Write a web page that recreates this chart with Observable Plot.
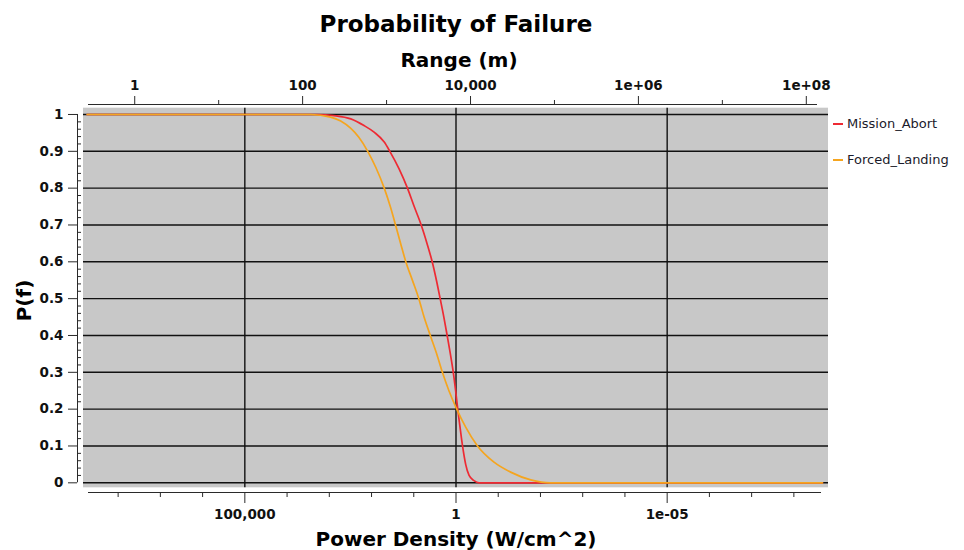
<!DOCTYPE html>
<html><head><meta charset="utf-8">
<script src="https://cdn.jsdelivr.net/npm/d3@7"></script>
<script src="https://cdn.jsdelivr.net/npm/@observablehq/plot@0.6"></script>
<style>
body{margin:0;background:#fff;}
#wrap{position:relative;width:964px;height:550px;font-family:"DejaVu Sans",sans-serif;}
#wrap svg{position:absolute;left:0;top:0;}
.legend{position:absolute;left:833px;font-size:13px;color:#1b1b2b;display:flex;align-items:center;white-space:nowrap;line-height:14px;}
.legend .sw{display:inline-block;width:10px;height:2px;margin-right:4px;}
</style></head><body><div id="wrap"></div>
<script>
// ---- data ----
const seriesNames = ["Mission_Abort", "Forced_Landing"];
const seriesColors = ["#ee2a33", "#f5a51f"];

const missionAbortPower = [5.4e8, 1900, 780, 310, 151, 87, 50, 36.9, 22.4, 14.1, 9.77, 6.67, 4.86, 3.66, 2.91, 2.37, 1.94, 1.62, 1.36, 1.16, 1.02, 0.91, 0.80, 0.70, 0.59, 0.49, 0.375, 0.285, 2.1e-9];
const missionAbortP     = [1, 1, 0.997, 0.988, 0.970, 0.952, 0.925, 0.90, 0.853, 0.80, 0.75, 0.70, 0.65, 0.60, 0.55, 0.50, 0.45, 0.40, 0.35, 0.30, 0.25, 0.20, 0.15, 0.10, 0.05, 0.02, 0.006, 0, 0];

const forcedLandingPower = [5.4e8, 2750, 930, 537, 309, 200, 126, 79, 50, 35.5, 27, 20.4, 15.5, 10.7, 7.5, 5.7, 4.0, 2.86, 2.10, 1.47, 0.96, 0.59, 0.31, 0.126, 0.051, 0.017, 0.0058, 2.1e-9];
const forcedLandingP     = [1, 1, 0.993, 0.982, 0.962, 0.938, 0.902, 0.856, 0.80, 0.748, 0.70, 0.649, 0.601, 0.549, 0.498, 0.45, 0.398, 0.35, 0.30, 0.25, 0.20, 0.151, 0.10, 0.056, 0.029, 0.008, 0, 0];

const powerMajorTicks = [1e5, 1, 1e-5];
const powerMajorLabels = ["100,000", "1", "1e-05"];
const powerMinorTicks = [1e8, 1e7, 1e6, 1e4, 1e3, 1e2, 1e1, 1e-1, 1e-2, 1e-3, 1e-4, 1e-6, 1e-7, 1e-8];

const rangeMajorTicks = [1, 100, 1e4, 1e6, 1e8];
const rangeMajorLabels = ["1", "100", "10,000", "1e+06", "1e+08"];
const rangeMinorTicks = [10, 1e3, 1e5, 1e7];

const yMajorTicks = [0, 0.1, 0.2, 0.3, 0.4, 0.5, 0.6, 0.7, 0.8, 0.9, 1];
const yMajorLabels = ["0", "0.1", "0.2", "0.3", "0.4", "0.5", "0.6", "0.7", "0.8", "0.9", "1"];
const yMinorTicks = d3.range(0, 51).filter(i => i % 5 !== 0).map(i => i / 50);

// top (range) axis expressed on the power-density scale
const rangeToPower = r => Math.pow(10, 7.607 - 1.9877 * Math.log10(r));

// ---- build ----
const series = [
  missionAbortPower.map((p, i) => ({power: p, pf: missionAbortP[i], name: seriesNames[0]})),
  forcedLandingPower.map((p, i) => ({power: p, pf: forcedLandingP[i], name: seriesNames[1]}))
];
const xDom = [Math.pow(10, 8.82), Math.pow(10, -8.82)];
const yLo = -0.0263, yHi = 1.0271;
const panel = [{x1: xDom[0], x2: xDom[1], y1: -0.0136, y2: 1.0171}];

const powerLabel = new Map(powerMajorTicks.map((t, i) => [t, powerMajorLabels[i]]));
const rangeMajorAsPower = rangeMajorTicks.map(rangeToPower);
const rangeLabel = new Map(rangeMajorAsPower.map((t, i) => [t, rangeMajorLabels[i]]));
const yLabel = new Map(yMajorTicks.map((t, i) => [t, yMajorLabels[i]]));
const axisColor = "#2a2a2a";
const bold = {fontSize: 13.5, fontWeight: "bold", fill: "#111"};
const titleStyle = {fontWeight: "bold", fill: "#000", lineAnchor: "middle", textAnchor: "middle"};

const chart = Plot.plot({
  width: 964, height: 550,
  marginLeft: 83, marginRight: 136, marginTop: 104, marginBottom: 58,
  style: {fontFamily: "'DejaVu Sans', sans-serif", background: "transparent", color: axisColor},
  x: {type: "log", domain: xDom, label: null},
  y: {domain: [yLo, yHi], label: null},
  marks: [
    Plot.rect(panel, {x1: "x1", x2: "x2", y1: "y1", y2: "y2", fill: "#c8c8c8"}),
    Plot.ruleY(yMajorTicks, {stroke: "#111", strokeWidth: 1.4}),
    Plot.ruleX(powerMajorTicks, {y1: panel[0].y1, y2: panel[0].y2, stroke: "#111", strokeWidth: 1.4}),
    Plot.line(series[0], {x: "power", y: "pf", stroke: seriesColors[0], strokeWidth: 1.7, curve: "monotone-x"}),
    Plot.line(series[1], {x: "power", y: "pf", stroke: seriesColors[1], strokeWidth: 1.7, curve: "monotone-x"}),
    // left axis
    Plot.ruleX([xDom[0]], {y1: 0, y2: 1, dx: -6, stroke: axisColor}),
    Plot.axisY(yMajorTicks, {anchor: "left", tickSize: 9, tickPadding: 5, dx: -6, tickFormat: d => yLabel.get(d), label: null, ...bold}),
    Plot.axisY(yMinorTicks, {anchor: "left", tickSize: -4, dx: -6, tickFormat: () => "", label: null}),
    // bottom axis
    Plot.ruleY([yLo], {insetLeft: 5, insetRight: 7, stroke: axisColor}),
    Plot.axisX(powerMajorTicks, {anchor: "bottom", tickSize: 11, tickPadding: 6, tickFormat: d => powerLabel.get(d), label: null, ...bold}),
    Plot.axisX(powerMinorTicks, {anchor: "bottom", tickSize: 5, tickFormat: () => "", label: null}),
    // top axis
    Plot.ruleY([yHi], {insetLeft: 5, insetRight: 11, stroke: axisColor}),
    Plot.axisX(rangeMajorAsPower, {anchor: "top", tickSize: 9, tickPadding: 6, tickFormat: d => rangeLabel.get(d), label: null, ...bold}),
    Plot.axisX(rangeMinorTicks.map(rangeToPower), {anchor: "top", tickSize: 5, tickFormat: () => "", label: null}),
    // titles
    Plot.text(["Probability of Failure"], {frameAnchor: "top", dy: -80, fontSize: 23, ...titleStyle}),
    Plot.text(["Range (m)"], {frameAnchor: "top", dx: 3, dy: -44, fontSize: 20, ...titleStyle}),
    Plot.text(["Power Density (W/cm^2)"], {frameAnchor: "bottom", dy: 47, fontSize: 20, ...titleStyle}),
    Plot.text(["P(f)"], {frameAnchor: "left", dx: -59, dy: 2, rotate: -90, fontSize: 20, ...titleStyle})
  ]
});
const wrap = document.getElementById("wrap");
wrap.appendChild(chart);
seriesNames.forEach((n, i) => {
  const d = document.createElement("div");
  d.className = "legend";
  d.style.top = (117 + i * 36) + "px";
  d.innerHTML = `<span class="sw" style="background:${seriesColors[i]}"></span>${n}`;
  wrap.appendChild(d);
});
</script></body></html>
